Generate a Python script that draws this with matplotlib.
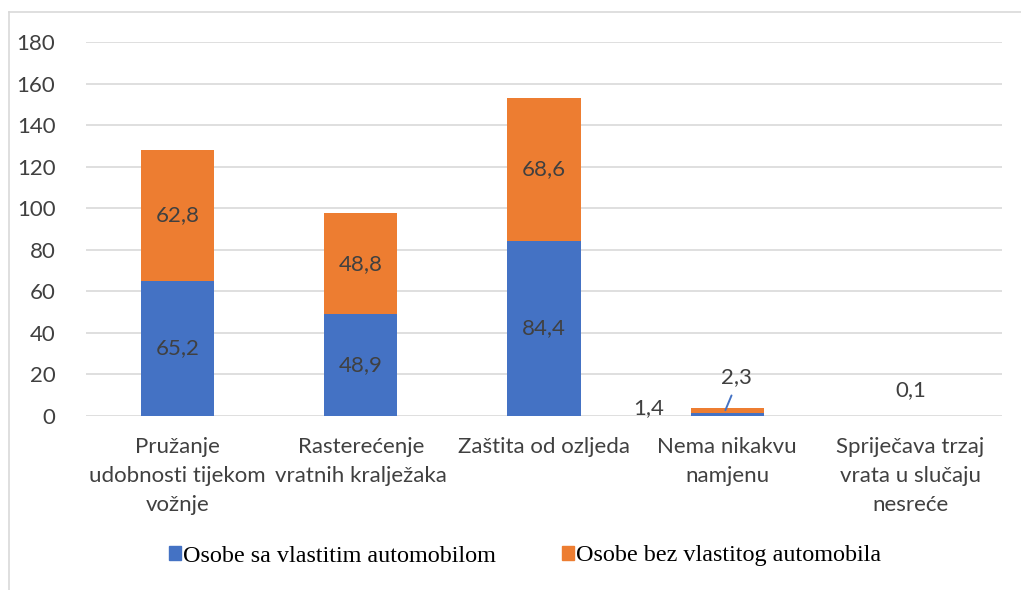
import matplotlib
matplotlib.use("Agg")
import matplotlib.pyplot as plt
from matplotlib.patches import Rectangle
from matplotlib.lines import Line2D

categories = ["Pružanje\nudobnosti tijekom\nvožnje", "Rasterećenje\nvratnih kralježaka",
              "Zaštita od ozljeda", "Nema nikakvu\nnamjenu", "Spriječava trzaj\nvrata u slučaju\nnesreće"]
series_names = ["Osobe sa vlastitim automobilom", "Osobe bez vlastitog automobila"]
with_car = [65.2, 48.9, 84.4, 1.4, 0.0]
without_car = [62.8, 48.8, 68.6, 2.3, 0.1]
yticks = [0, 20, 40, 60, 80, 100, 120, 140, 160, 180]

BLUE = "#4472C4"
ORANGE = "#ED7D31"
TXT = "#404040"
FONT = ["Lato", "DejaVu Sans"]
FS = 16

fig = plt.figure(figsize=(10.21, 5.90), dpi=100)
W, H = 1021, 590
ax = fig.add_axes([86 / W, 1 - 416 / H, (1002 - 86) / W, (416 - 42) / H])

x = list(range(len(categories)))
bw = 0.40
ax.bar(x, with_car, bw, color=BLUE, zorder=3, label=series_names[0])
ax.bar(x, without_car, bw, bottom=with_car, color=ORANGE, zorder=3, label=series_names[1])

ax.set_xlim(-0.5, len(categories) - 0.5)
ax.set_ylim(0, 180)
ax.set_yticks(yticks)
ax.set_yticklabels([str(t) for t in yticks], fontsize=FS, color=TXT, family=FONT)
ax.yaxis.grid(True, color="#D9D9D9", linewidth=1.2, zorder=0)
for s in ax.spines.values():
    s.set_visible(False)
ax.tick_params(axis="y", length=0, pad=22)
ax.tick_params(axis="x", length=0, pad=15)
ax.set_xticks(x)
ax.set_xticklabels(categories, fontsize=FS, color=TXT, family=FONT, linespacing=1.58)

def fmt(v):
    return f"{v:.1f}".replace(".", ",")

# data labels
for i in range(len(categories)):
    a, b = with_car[i], without_car[i]
    if a >= 10:
        ax.text(i, a / 2, fmt(a), ha="center", va="center", fontsize=FS, color=TXT, family=FONT, zorder=4)
    if b >= 10:
        ax.text(i, a + b / 2, fmt(b), ha="center", va="center", fontsize=FS, color=TXT, family=FONT, zorder=4)

# small values
i = 3
ax.text(i - 0.43, with_car[i] + 2.3, fmt(with_car[i]), ha="center", va="center", fontsize=FS, color=TXT, family=FONT)
ax.annotate(fmt(without_car[i]), xy=(i - 0.01, with_car[i] + without_car[i] * 0.6),
            xytext=(i + 0.05, 18.5), ha="center", va="center", fontsize=FS, color=TXT, family=FONT,
            arrowprops=dict(arrowstyle="-", color=BLUE, lw=1.4, shrinkA=4, shrinkB=0,
                            relpos=(0.45, 0.0)))
i = 4
ax.text(i, with_car[i] + without_car[i] + 12.5, fmt(without_car[i]), ha="center", va="center",
        fontsize=FS, color=TXT, family=FONT)

# legend
handles = [Rectangle((0, 0), 1, 1, color=BLUE), Rectangle((0, 0), 1, 1, color=ORANGE)]
fig.legend(handles, series_names, loc="center", bbox_to_anchor=(525 / W, 1 - 556 / H), ncol=2,
           frameon=False, prop={"family": "Liberation Serif", "size": 17.4},
           handlelength=0.5, handleheight=0.5, handletextpad=0.1, columnspacing=2.7)

# chart border
fig.add_artist(Line2D([8.5 / W, 8.5 / W], [0, 1 - 12 / H], color="#D9D9D9", lw=1.2, transform=fig.transFigure))
fig.add_artist(Line2D([8.5 / W, 1], [1 - 12 / H, 1 - 12 / H], color="#D9D9D9", lw=1.2, transform=fig.transFigure))

fig.savefig("out.png", dpi=100)
